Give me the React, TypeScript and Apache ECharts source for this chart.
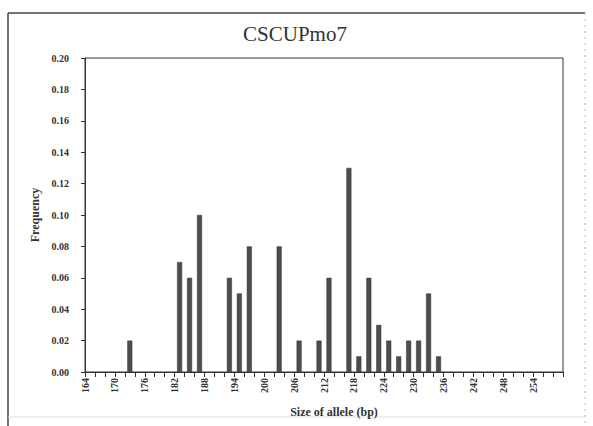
import React, { useEffect, useRef } from "react";
import * as echarts from "echarts";

const titleText = "CSCUPmo7";
const alleleSizes = [173, 183, 185, 187, 193, 195, 197, 203, 207, 211, 213, 217, 219, 221, 223, 225, 227, 229, 231, 233, 235];
const frequencies = [0.02, 0.07, 0.06, 0.1, 0.06, 0.05, 0.08, 0.08, 0.02, 0.02, 0.06, 0.13, 0.01, 0.06, 0.03, 0.02, 0.01, 0.02, 0.02, 0.05, 0.01];
const xAxisName = "Size of allele (bp)";
const yAxisName = "Frequency";

export default function App() {
  const ref = useRef<HTMLDivElement>(null);
  useEffect(() => {
    if (!ref.current) return;
    const chart = echarts.init(ref.current, undefined, { renderer: "svg" });
    const labelFont = "Liberation Serif";
    chart.setOption({
      animation: false,
      backgroundColor: "#ffffff",
      title: {
        text: titleText,
        left: 290,
        top: 18,
        textAlign: "center",
        textStyle: { fontFamily: labelFont, fontWeight: "normal", fontSize: 21, color: "#333" },
      },
      grid: {
        left: 85,
        top: 58,
        right: 30,
        bottom: 54,
        show: true,
        borderColor: "#333",
        borderWidth: 1,
        containLabel: false,
      },
      xAxis: {
        type: "value",
        min: 164,
        max: 260,
        interval: 6,
        name: xAxisName,
        nameLocation: "middle",
        nameGap: 34,
        nameTextStyle: { fontFamily: labelFont, fontWeight: "bold", fontSize: 12, color: "#333", padding: [0, 0, 0, 20] },
        axisLine: { show: true, lineStyle: { color: "#333", width: 1 } },
        axisTick: { show: true, length: 5, lineStyle: { color: "#333" } },
        minorTick: { show: true, splitNumber: 3, length: 5, lineStyle: { color: "#333" } },
        splitLine: { show: false },
        axisLabel: {
          rotate: 90,
          margin: 6,
          showMaxLabel: false,
          fontFamily: labelFont,
          fontWeight: "bold",
          fontSize: 10,
          color: "#333",
        },
      },
      yAxis: {
        type: "value",
        min: 0,
        max: 0.2,
        interval: 0.02,
        name: yAxisName,
        nameLocation: "middle",
        nameGap: 44,
        nameTextStyle: { fontFamily: labelFont, fontWeight: "bold", fontSize: 12, color: "#333" },
        axisLine: { show: true, lineStyle: { color: "#333", width: 1 } },
        axisTick: { show: true, length: 4, lineStyle: { color: "#333" } },
        splitLine: { show: false },
        axisLabel: {
          margin: 16,
          formatter: (v: number) => v.toFixed(2),
          fontFamily: labelFont,
          fontWeight: "bold",
          fontSize: 10,
          color: "#333",
        },
      },
      series: [
        {
          type: "bar",
          data: alleleSizes.map((s, i) => [s, frequencies[i]]),
          barWidth: 5,
          itemStyle: { color: "#4d4d4d", borderColor: "#333", borderWidth: 0.5 },
        },
      ],
      graphic: [
        { type: "line", shape: { x1: 8, y1: 13, x2: 8, y2: 426 }, style: { stroke: "#444", lineWidth: 1.5 } },
        { type: "line", shape: { x1: 8, y1: 13, x2: 585, y2: 13 }, style: { stroke: "#444", lineWidth: 1.5 } },
        { type: "line", shape: { x1: 585, y1: 13, x2: 585, y2: 426 }, style: { stroke: "#bbb", lineWidth: 1, lineDash: [2, 4] } },
        { type: "line", shape: { x1: 8, y1: 417, x2: 585, y2: 417 }, style: { stroke: "#ddd", lineWidth: 1 } },
      ],
    });
    return () => chart.dispose();
  }, []);
  return <div ref={ref} style={{ position: "absolute", left: 0, top: 0, width: 593, height: 426 }} />;
}
